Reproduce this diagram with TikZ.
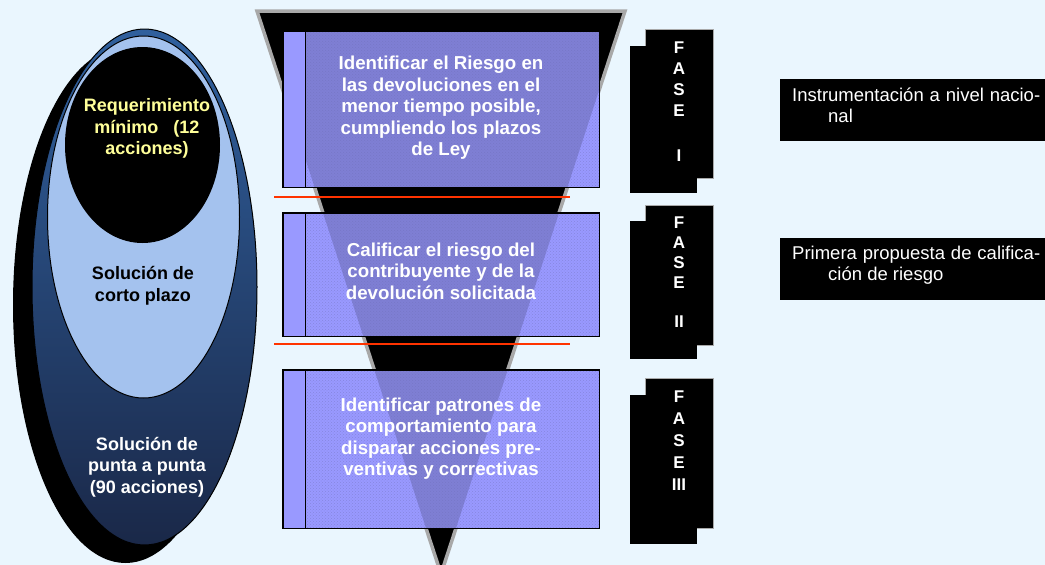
\documentclass[tikz,border=0pt]{standalone}
\usepackage{fontspec}
\setmainfont{Liberation Sans}
\usetikzlibrary{shapes.geometric,patterns}
\definecolor{bg}{HTML}{EAF6FE}
\definecolor{ovtop}{HTML}{30609E}
\definecolor{ovbot}{HTML}{1A2848}
\definecolor{lblue}{HTML}{A4C2EE}
\definecolor{boxc}{HTML}{9999FF}
\definecolor{yel}{HTML}{FFFF99}
\definecolor{redl}{HTML}{FF3300}
\definecolor{fgray}{HTML}{A8A8A8}
\tikzset{
  bt/.style={font=\fontsize{18}{21.5}\selectfont\bfseries, align=center, inner sep=0},
  boxtxt/.style={font=\fontsize{18.7}{21.5}\selectfont\bfseries, align=center, inner sep=0, text=white},
  stepbox/.style={fill=boxc, inner sep=0, minimum width=316, anchor=north west},
  stripe/.style={fill=boxc, inner sep=0, minimum width=22, anchor=north west},
  faseup/.style={fill=black, draw=fgray, line width=0.8, inner sep=0, minimum width=68, anchor=north west},
  faselo/.style={fill=black, inner sep=0, minimum width=67, anchor=north west},
  fasetxt/.style={text=white, font=\fontsize{17}{21}\selectfont\bfseries, align=center, inner sep=0, anchor=north},
  notebox/.style={fill=black, inner sep=0, minimum width=266, minimum height=62, anchor=north west},
  notetxt/.style={text=white, font=\fontsize{18.5}{21}\selectfont, align=left, inner sep=0, anchor=west},
  redline/.style={redl, line width=1.8},
}
\begin{document}
\begin{tikzpicture}[x=1pt,y=-1pt]
\fill[bg] (0,0) rectangle (1045,565);
\useasboundingbox (0,0) rectangle (1045,565);

% ellipses
\node[ellipse, fill=black, minimum width=225, minimum height=516, inner sep=0] (shadow) at (125.5,305) {};
\node[ellipse, draw=black, line width=1, top color=ovtop, bottom color=ovbot, minimum width=225, minimum height=516, inner sep=0] (outer) at (144.5,287) {};
\node[ellipse, draw=black, line width=1, fill=lblue, minimum width=192, minimum height=362, inner sep=0] (light) at (143.5,217) {};
\node[ellipse, fill=black, minimum width=155, minimum height=196, inner sep=0] (core) at (142.5,145) {};
\node[bt, text=yel] (tcore) at (147,128.5) {Requerimiento\\mínimo\ \ \ (12\\acciones)};
\node[bt, text=black] (tlight) at (143,286) {Solución de\\corto plazo};
\node[bt, text=white] (touter) at (147,467) {Solución de\\punta a punta\\(90 acciones)};

% funnel
\coordinate (fa) at (257,11);
\coordinate (fb) at (625,11);
\coordinate (fc) at (441,574);
\draw[fgray, line width=3.5, fill=black, line join=miter] (fa) -- (fb) -- (fc) -- cycle;

% step boxes
\foreach \n/\y/\h in {b1/31/156, b2/213/123, b3/370/158}{
  \node[stepbox, minimum height=\h] (\n) at (283,\y) {};
  \begin{scope}
    \clip (\n.north west) rectangle (\n.south east);
    \fill[black, opacity=0.17] (fa) -- (fb) -- (fc) -- cycle;
    \fill[pattern=crosshatch dots, pattern color=boxc!72!black, opacity=0.45] (\n.north west) rectangle (\n.south east);
  \end{scope}
  \node[stripe, minimum height=\h] (\n s) at (283,\y) {};
  \draw[black, line width=1.6] (\n.north west) rectangle (\n.south east);
  \draw[black, line width=1.6] (\n s.north east) -- (\n s.south east);
}
\node[boxtxt] (t1) at (441,108) {Identificar el Riesgo en\\las devoluciones en el\\menor tiempo posible,\\cumpliendo los plazos\\de Ley};
\node[boxtxt] (t2) at (441,271) {Calificar el riesgo del\\contribuyente y de la\\devolución solicitada};
\node[boxtxt] (t3) at (441,438.5) {Identificar patrones de\\comportamiento para\\disparar acciones pre-\\ventivas y correctivas};

% red separators
\coordinate (r1a) at (274,197); \coordinate (r1b) at (570,197);
\coordinate (r2a) at (274,344); \coordinate (r2b) at (570,344);
\draw[redline] (r1a) -- (r1b);
\draw[redline] (r2a) -- (r2b);

% phases
\node[faseup, minimum height=149] (f1u) at (645,29) {};
\node[faselo, minimum height=147] (f1l) at (630,46) {};
\node[fasetxt] (f1t) at (679,42) {F\\A\\S\\E\\[24pt]I};
\node[faseup, minimum height=140] (f2u) at (645,205) {};
\node[faselo, minimum height=138] (f2l) at (630,221) {};
\node[fasetxt, font=\fontsize{17}{20}\selectfont\bfseries] (f2t) at (679,217) {F\\A\\S\\E\\[19pt]II};
\node[faseup, minimum height=150] (f3u) at (645,378) {};
\node[faselo, minimum height=149] (f3l) at (630,395) {};
\node[fasetxt, font=\fontsize{17}{22}\selectfont\bfseries] (f3t) at (679,391) {F\\A\\S\\E\\III};

% notes
\node[notebox] (n1) at (780,79) {};
\node[notetxt] (n1t) at (792,105) {\makebox[248pt][s]{Instrumentación a nivel nacio-}\\\hspace*{36pt}nal};
\node[notebox] (n2) at (780,238) {};
\node[notetxt] (n2t) at (792,265) {\makebox[248pt][s]{Primera propuesta de califica-}\\\hspace*{36pt}ción de riesgo};
\end{tikzpicture}
\end{document}
